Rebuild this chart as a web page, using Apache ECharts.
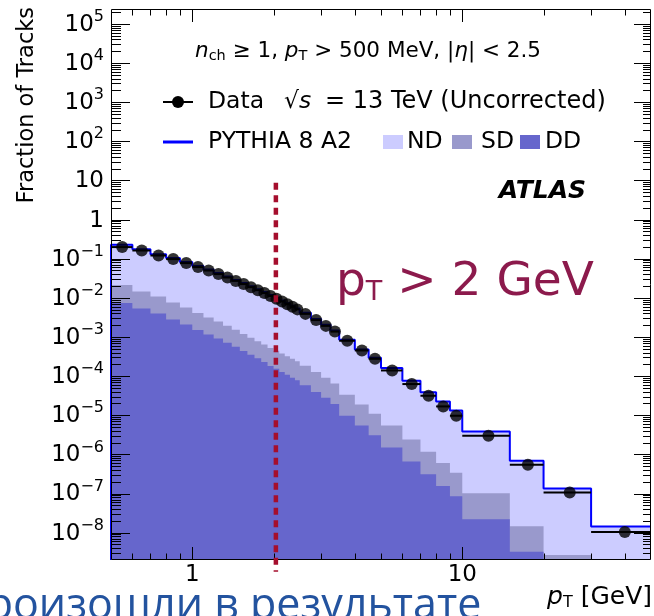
<!DOCTYPE html>
<html>
<head>
<meta charset="utf-8">
<script src="https://cdn.jsdelivr.net/npm/echarts@6.0.0/dist/echarts.min.js"></script>
<style>
html,body{margin:0;padding:0;background:#ffffff;overflow:hidden;}
#chart{width:654px;height:616px;}
</style>
</head>
<body>
<div id="chart"></div>
<script>
// ---------------- data ----------------
const binEdges = [0.5,0.6,0.7,0.8,0.9,1.0,1.1,1.2,1.3,1.4,1.5,1.6,1.7,1.8,1.9,2.0,2.1,2.2,2.3,2.4,2.5,2.75,3.0,3.25,3.5,4.0,4.5,5,6,7,8,9,10,15,20,30,50];
const dataFraction = [0.198,0.162,0.1207,0.0977,0.0772,0.0610,0.0499,0.0404,0.0331,0.0271,0.02245,0.0187,0.01568,0.01322,0.01115,0.00946,0.00807,0.00689,0.00591,0.00507,0.00389,0.00270,0.00192,0.001373,0.000800,0.000452,0.000277,0.0001394,6.26e-5,3.15e-5,1.68e-5,9.71e-6,3.00e-6,5.44e-7,1.067e-7,1.039e-8];
const pythiaTotal = [0.2265,0.1738,0.1296,0.1036,0.0819,0.0647,0.0530,0.0429,0.0351,0.0287,0.0238,0.01984,0.01663,0.01402,0.01182,0.01003,0.00856,0.00730,0.00626,0.00537,0.00413,0.00287,0.00204,0.001457,0.000848,0.000479,0.000294,0.0001605,7.61e-5,3.87e-5,2.25e-5,1.326e-5,3.86e-6,6.88e-7,1.35e-7,1.444e-8];
const sdStackTop = [0.02117,0.01453,0.01083,0.00756,0.00564,0.00408,0.00315,0.002474,0.001932,0.001519,0.001186,0.000960,0.000781,0.000639,0.000524,0.000444,0.000379,0.000323,0.000277,0.000238,0.000183,0.0001269,9.02e-5,6.45e-5,3.34e-5,1.887e-5,1.092e-5,5.49e-6,2.39e-6,1.168e-6,6.05e-7,3.40e-7,1.018e-7,1.461e-8,2.70e-9,1e-10];
const ddStackTop = [0.00734,0.00535,0.00398,0.00278,0.002073,0.001501,0.001159,0.000910,0.000711,0.000559,0.000436,0.000353,0.000287,0.000229,0.0001817,0.0001541,0.0001276,0.0001089,9.08e-5,7.79e-5,5.80e-5,3.91e-5,2.78e-5,1.932e-5,9.71e-6,5.49e-6,3.08e-6,1.505e-6,6.57e-7,3.11e-7,1.563e-7,8.53e-8,2.21e-8,3.26e-9,1e-10,1e-10];

const xMajorTicks = [1, 10];
const xTickLabels = ['1', '10'];
const xMinorTicks = [0.6,0.7,0.8,0.9,2,3,4,5,6,7,8,9,20,30,40];
const yMajorExps = [-8,-7,-6,-5,-4,-3,-2,-1,0,1,2,3,4,5];
const yMinorMultipliers = [2,3,4,5,6,7,8,9];
const cutValue = 2.04;
const cutLineTop = 8.7, cutLineBottom = 1e-9;
const X_MIN = 0.5, X_MAX = 50, Y_MIN = 2e-9, Y_MAX = 2.4e5;

// ---------------- helpers ----------------
const FONT = '"DejaVu Sans", Verdana, sans-serif';
const nBins = binEdges.length - 1;
function stepData(vals) {
  const d = [];
  for (let i = 0; i < nBins; i++) d.push([binEdges[i], vals[i]]);
  d.push([binEdges[nBins], vals[nBins - 1]]);
  return d;
}
const yMinorTicks = [];
for (let e = -9; e <= 5; e++) yMinorMultipliers.forEach(k => {
  const v = k * Math.pow(10, e);
  if (v > Y_MIN && v < Y_MAX) yMinorTicks.push(v);
});
const pointData = dataFraction.map((v, i) => [(binEdges[i] + binEdges[i + 1]) / 2, v]);
const errData = dataFraction.map((v, i) => [binEdges[i], binEdges[i + 1], v]);
const blueLine = [[binEdges[0], Y_MIN]].concat(stepData(pythiaTotal));

const yRich = {
  b: {fontSize: 23, fontFamily: FONT, lineHeight: 32, fill: '#000'},
  s: {fontSize: 16, fontFamily: FONT, lineHeight: 19, verticalAlign: 'top', fill: '#000'}
};

function axisDecor(params, api) {
  const p0 = api.coord([X_MIN, Y_MIN]), p1 = api.coord([X_MAX, Y_MAX]);
  const L = p0[0], B = p0[1], R = p1[0], T = p1[1];
  const ch = [];
  const st = {stroke: '#000', lineWidth: 1};
  const seg = (x1, y1, x2, y2) => ch.push({type: 'line', shape: {x1, y1, x2, y2}, style: st});
  const cx = v => Math.round(api.coord([v, Y_MIN])[0]) + 0.5;
  const cy = v => Math.round(api.coord([X_MIN, v])[1]) + 0.5;
  xMajorTicks.forEach(v => { const x = cx(v); seg(x, B, x, B - 13); seg(x, T, x, T + 13); });
  xMinorTicks.forEach(v => { const x = cx(v); seg(x, B, x, B - 6.5); seg(x, T, x, T + 6.5); });
  yMajorExps.forEach(e => { const y = cy(Math.pow(10, e)); seg(L, y, L + 19, y); seg(R, y, R - 17, y); });
  yMinorTicks.forEach(v => { const y = cy(v); seg(L, y, L + 10, y); seg(R, y, R - 8, y); });
  ch.push({type: 'rect', shape: {x: Math.round(L) + 0.5, y: Math.round(T) + 0.5, width: Math.round(R) - Math.round(L) - 1, height: Math.round(B) - Math.round(T) - 1},
    style: {stroke: '#000', lineWidth: 1, fill: null}});
  // x labels
  xMajorTicks.forEach((v, i) => {
    ch.push({type: 'text', x: api.coord([v, Y_MIN])[0], y: B + 4,
      style: {text: xTickLabels[i], font: '23px ' + FONT, fill: '#000', align: 'center', verticalAlign: 'top'}});
  });
  // y labels
  yMajorExps.forEach(e => {
    const y = api.coord([X_MIN, Math.pow(10, e)])[1];
    let txt;
    if (e === 0) txt = '{b|1}';
    else if (e === 1) txt = '{b|10}';
    else txt = '{b|10}{s|' + (e < 0 ? '\u2212' + (-e) : String(e)) + '}';
    ch.push({type: 'text', x: L - 7, y: y + 1,
      style: {text: txt, rich: yRich, align: 'right', verticalAlign: 'middle'}});
  });
  return {type: 'group', children: ch};
}

const chart = echarts.init(document.getElementById('chart'), null, {renderer: 'canvas', width: 654, height: 616});

const hiddenAxis = {axisLine: {show: false}, axisTick: {show: false}, axisLabel: {show: false}, splitLine: {show: false}};
const TXT = (size, extra) => Object.assign({fontSize: size, fontFamily: FONT, fill: '#000'}, extra || {});
const LEG = 23.5;

const option = {
  animation: false,
  backgroundColor: '#ffffff',
  grid: {left: 111, right: 3, top: 9, bottom: 56, containLabel: false},
  xAxis: Object.assign({type: 'log', logBase: 10, min: X_MIN, max: X_MAX}, hiddenAxis),
  yAxis: Object.assign({type: 'log', logBase: 10, min: Y_MIN, max: Y_MAX}, hiddenAxis),
  series: [
    {name: 'ND', type: 'line', step: 'end', data: stepData(pythiaTotal), symbol: 'none', z: 1,
      lineStyle: {width: 0, opacity: 0}, areaStyle: {color: '#ccccff', opacity: 1, origin: 'start'}, silent: true},
    {name: 'PYTHIA 8 A2', type: 'line', step: 'end', data: blueLine, symbol: 'none', z: 2,
      lineStyle: {width: 2, color: '#0000ff'}, silent: true},
    {name: 'SD', type: 'line', step: 'end', data: stepData(sdStackTop), symbol: 'none', z: 3,
      lineStyle: {width: 0, opacity: 0}, areaStyle: {color: '#9999cc', opacity: 1, origin: 'start'}, silent: true},
    {name: 'DD', type: 'line', step: 'end', data: stepData(ddStackTop), symbol: 'none', z: 4,
      lineStyle: {width: 0, opacity: 0}, areaStyle: {color: '#6666cc', opacity: 1, origin: 'start'}, silent: true},
    {name: 'axes', type: 'custom', data: [[X_MIN, Y_MIN]], renderItem: axisDecor, z: 5, silent: true,
      encode: {x: 0, y: 1}},
    {name: 'Data err', type: 'custom', data: errData, z: 6, silent: true, encode: {x: [0, 1], y: 2},
      renderItem: (params, api) => {
        const a = api.coord([api.value(0), api.value(2)]);
        const b = api.coord([api.value(1), api.value(2)]);
        return {type: 'line', shape: {x1: a[0], y1: a[1], x2: b[0], y2: b[1]}, style: {stroke: '#000', lineWidth: 2}};
      }},
    {name: 'Data', type: 'scatter', data: pointData, symbol: 'circle', symbolSize: 12, z: 7,
      itemStyle: {color: '#000'}, silent: true},
    {name: 'cut', type: 'custom', data: [[cutValue, cutLineTop, cutLineBottom]], z: 8, silent: true,
      encode: {x: 0, y: [1, 2]},
      renderItem: (params, api) => {
        const a = api.coord([api.value(0), api.value(1)]);
        const b = api.coord([api.value(0), api.value(2)]);
        return {type: 'line', shape: {x1: a[0], y1: a[1], x2: b[0], y2: b[1]},
          style: {stroke: '#a50e2d', lineWidth: 4.5, lineDash: [7, 5.5]}};
      }}
  ],
  graphic: {elements: [
    {type: 'text', x: 27, y: 7, rotation: Math.PI / 2, z: 100,
      style: {text: 'Fraction of Tracks', font: '22.5px ' + FONT, fill: '#000', align: 'right', verticalAlign: 'middle'}},
    {type: 'text', x: 652, y: 597, z: 100,
      style: {text: '{i|p}{s|T}{n| [GeV]}', align: 'right', verticalAlign: 'middle',
        rich: {i: TXT(25, {fontStyle: 'italic', lineHeight: 28}),
               s: TXT(16, {lineHeight: 14, verticalAlign: 'bottom'}),
               n: TXT(25, {lineHeight: 28})}}},
    // legend line 1
    {type: 'text', x: 195, y: 51, z: 100,
      style: {text: '{i|n}{s|ch}{n| \u2265 1, }{i|p}{s|T}{n| > 500 MeV, |}{i|\u03b7}{n|| < 2.5}', verticalAlign: 'middle',
        rich: {i: TXT(21.5, {fontStyle: 'italic', lineHeight: 26}),
               s: TXT(14.5, {lineHeight: 14, verticalAlign: 'bottom'}),
               n: TXT(21.5, {lineHeight: 26})}}},
    // Data entry
    {type: 'line', z: 100, shape: {x1: 163, y1: 102, x2: 193, y2: 102}, style: {stroke: '#000', lineWidth: 2}},
    {type: 'circle', z: 100, shape: {cx: 178, cy: 102, r: 6}, style: {fill: '#000'}},
    {type: 'text', x: 208, y: 102, z: 100, style: {text: 'Data', font: LEG + 'px ' + FONT, fill: '#000', verticalAlign: 'middle'}},
    {type: 'text', x: 284, y: 102, z: 100,
      style: {text: '{n|\u221a}{i|s}', verticalAlign: 'middle',
        rich: {i: TXT(LEG, {fontStyle: 'italic'}), n: TXT(LEG)}}},
    {type: 'text', x: 325, y: 102, z: 100,
      style: {text: '= 13 TeV (Uncorrected)', font: '24px ' + FONT, fill: '#000', verticalAlign: 'middle'}},
    // PYTHIA entry
    {type: 'line', z: 100, shape: {x1: 163, y1: 142, x2: 193, y2: 142}, style: {stroke: '#0000ff', lineWidth: 3}},
    {type: 'text', x: 208, y: 142, z: 100, style: {text: 'PYTHIA 8 A2', font: LEG + 'px ' + FONT, fill: '#000', verticalAlign: 'middle'}},
    {type: 'rect', z: 100, shape: {x: 383, y: 135, width: 20, height: 14}, style: {fill: '#ccccff'}},
    {type: 'text', x: 407, y: 142, z: 100, style: {text: 'ND', font: LEG + 'px ' + FONT, fill: '#000', verticalAlign: 'middle'}},
    {type: 'rect', z: 100, shape: {x: 452, y: 135, width: 20, height: 14}, style: {fill: '#9999cc'}},
    {type: 'text', x: 481, y: 142, z: 100, style: {text: 'SD', font: LEG + 'px ' + FONT, fill: '#000', verticalAlign: 'middle'}},
    {type: 'rect', z: 100, shape: {x: 520, y: 135, width: 20, height: 14}, style: {fill: '#6666cc'}},
    {type: 'text', x: 545, y: 142, z: 100, style: {text: 'DD', font: LEG + 'px ' + FONT, fill: '#000', verticalAlign: 'middle'}},
    {type: 'text', x: 586, y: 191, z: 100, style: {text: 'ATLAS', font: 'italic bold 25px ' + FONT, fill: '#000', align: 'right', verticalAlign: 'middle'}},
    // annotation
    {type: 'text', x: 336, y: 283, z: 100,
      style: {text: '{p|p}{t|T}{r| > 2 GeV}', verticalAlign: 'middle',
        rich: {p: {fontSize: 47, fontFamily: FONT, lineHeight: 47, fill: '#8c1a4c'},
               t: {fontSize: 27, fontFamily: FONT, lineHeight: 33, verticalAlign: 'bottom', fill: '#8c1a4c'},
               r: {fontSize: 47, fontFamily: FONT, lineHeight: 47, fill: '#8c1a4c'}}}},
    {type: 'text', x: -40, y: 607, z: 100,
      style: {text: 'произошли в результате', font: '43px "Open Sans", "Noto Sans", sans-serif', fill: '#23539f', verticalAlign: 'middle'}}
  ]}
};
chart.setOption(option);
</script>
</body>
</html>
